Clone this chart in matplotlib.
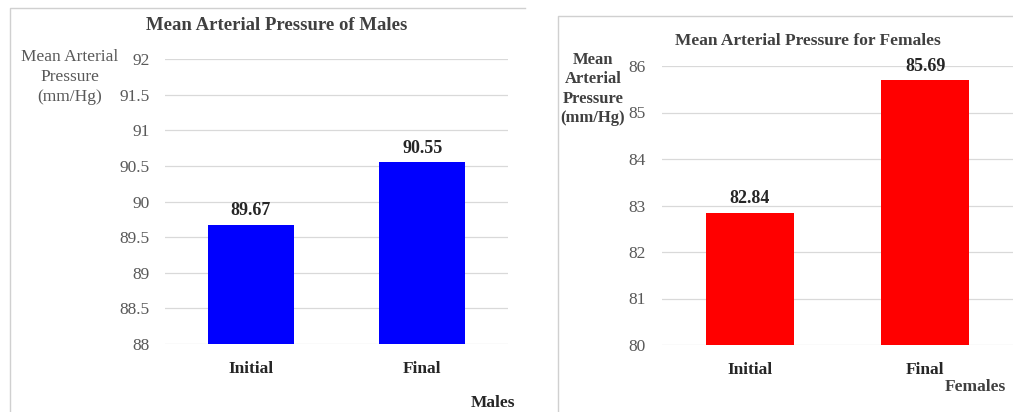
import matplotlib.pyplot as plt
from matplotlib.lines import Line2D

# Data
categories = ['Initial', 'Final']
males_map = [89.67, 90.55]
females_map = [82.84, 85.69]
males_ticks = [88, 88.5, 89, 89.5, 90, 90.5, 91, 91.5, 92]
females_ticks = [80, 81, 82, 83, 84, 85, 86]

W, H = 1013, 412
plt.rcParams['font.family'] = ['Liberation Serif', 'DejaVu Serif']

fig = plt.figure(figsize=(W / 100, H / 100), dpi=100)
fig.patch.set_facecolor('white')


def px_axes(x0, y0, x1, y1):
    # pixel box (top-left origin) -> figure fraction
    return fig.add_axes([x0 / W, 1 - y1 / H, (x1 - x0) / W, (y1 - y0) / H])


def style(ax, ticks, ylim, pad):
    ax.set_ylim(*ylim)
    ax.set_xlim(-0.5, 1.5)
    ax.set_yticks(ticks)
    ax.set_yticklabels([f'{t:g}' for t in ticks])
    ax.yaxis.grid(True, color='#d9d9d9', linewidth=0.9)
    ax.set_axisbelow(True)
    for s in ax.spines.values():
        s.set_visible(False)
    ax.tick_params(axis='y', length=0, pad=pad, labelsize=12.5, labelcolor='#595959')
    ax.tick_params(axis='x', length=0, pad=12, labelsize=12.5)
    ax.set_xticks(range(len(categories)))
    ax.set_xticklabels(categories, fontweight='bold', color='#262626')


# panel borders
def border(x0, y0, x1, y1):
    xs = [x0 / W, x0 / W, x1 / W]
    ys = [1 - y1 / H, 1 - y0 / H, 1 - y0 / H]
    fig.add_artist(Line2D(xs, ys, color='#d0d0d0', linewidth=1.0))


border(10, 8, 525, 412)
border(558, 16, 1013, 412)

# Males
ax1 = px_axes(165, 59, 508, 344)
b1 = ax1.bar(range(len(categories)), males_map, width=0.5, color='#0000ff', zorder=2)
style(ax1, males_ticks, (88, 92), 11)
ax1.bar_label(b1, labels=[f'{v:.2f}' for v in males_map], padding=4,
              fontsize=13, fontweight='bold', color='#262626')
fig.text(277 / W, 1 - 25 / H, 'Mean Arterial Pressure of Males', ha='center', va='center',
         fontsize=13.5, fontweight='bold', color='#404040')
fig.text(70 / W, 1 - 77 / H, 'Mean Arterial\nPressure\n(mm/Hg)', ha='center', va='center',
         fontsize=12.5, color='#595959', linespacing=1.3)
fig.text(493 / W, 1 - 403 / H, 'Males', ha='center', va='center',
         fontsize=12.5, fontweight='bold', color='#262626')

# Females
ax2 = px_axes(662, 66, 1013, 345)
b2 = ax2.bar(range(len(categories)), females_map, width=0.5, color='#ff0000', zorder=2)
style(ax2, females_ticks, (80, 86), 12)
ax2.bar_label(b2, labels=[f'{v:.2f}' for v in females_map], padding=4,
              fontsize=13, fontweight='bold', color='#262626')
fig.text(808 / W, 1 - 41 / H, 'Mean Arterial Pressure for Females', ha='center', va='center',
         fontsize=12.5, fontweight='bold', color='#404040')
fig.text(593 / W, 1 - 89 / H, 'Mean\nArterial\nPressure\n(mm/Hg)', ha='center', va='center',
         fontsize=12, fontweight='bold', color='#404040', linespacing=1.3)
fig.text(975 / W, 1 - 387 / H, 'Females', ha='center', va='center',
         fontsize=12.5, fontweight='bold', color='#404040')

fig.savefig('out.png', dpi=100, facecolor='white')
